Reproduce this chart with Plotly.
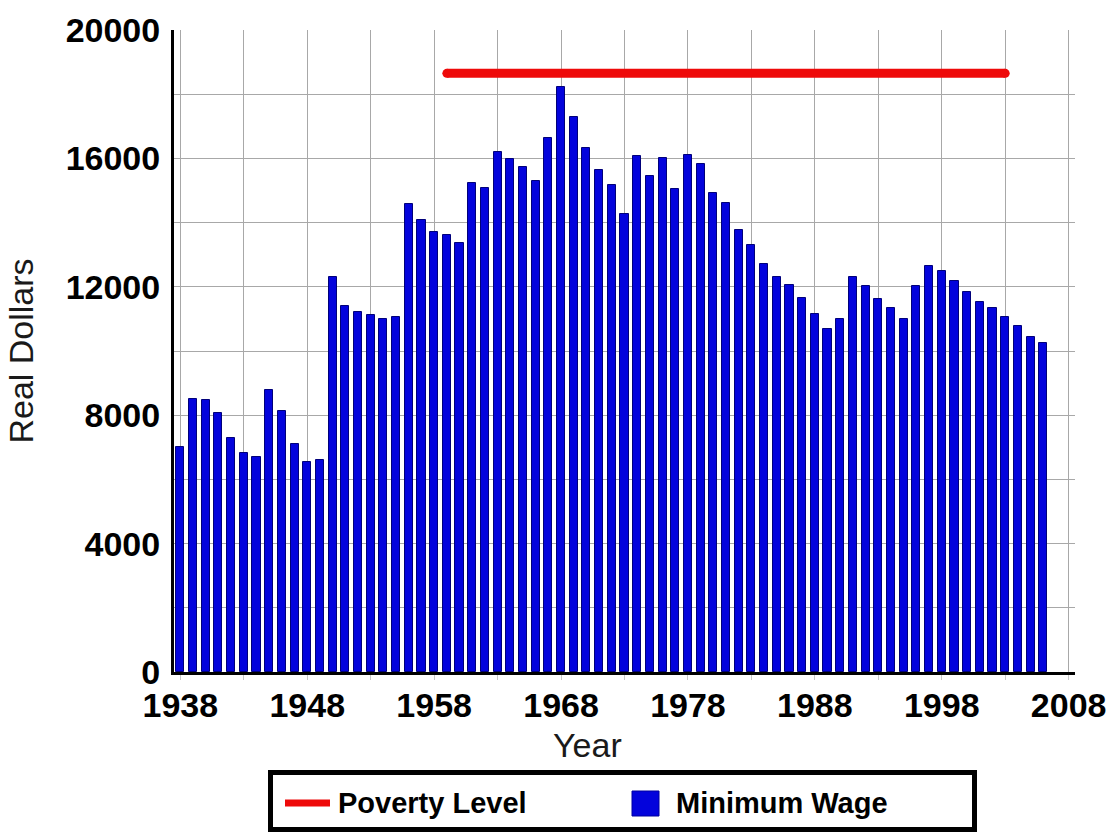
import plotly.graph_objects as go

years = list(range(1938, 2007))
min_wage = [
    7000, 8520, 8460, 8060, 7280, 6810, 6690, 8770, 8120, 7090,
    6530, 6620, 12320, 11410, 11200, 11130, 11010, 11070, 14590, 14090,
    13720, 13600, 13370, 15240, 15080, 16200, 15980, 15740, 15300, 16640,
    18220, 17290, 16330, 15640, 15180, 14270, 16080, 15460, 16020, 15050,
    16110, 15830, 14930, 14620, 13780, 13310, 12720, 12320, 12070, 11660,
    11160, 10700, 11010, 12320, 12010, 11630, 11350, 11010, 12010, 12660,
    12500, 12190, 11850, 11540, 11350, 11070, 10790, 10450, 10260,
]
poverty_years = [1959, 2003]
poverty_level = [18650, 18650]

x_tick_vals = [1938, 1948, 1958, 1968, 1978, 1988, 1998, 2008]
y_tick_vals = [0, 4000, 8000, 12000, 16000, 20000]
legend_labels = ["Poverty Level", "Minimum Wage"]

RED = "#ee0a0a"
BLUE = "#0303dc"

W, H = 1120, 835
ML, MR, MT, MB = 174, 45, 30, 163
PW, PH = W - ML - MR, H - MT - MB


def px_x(px):
    return (px - ML) / PW


def px_y(py):
    return (H - MB - py) / PH


fig = go.Figure()
fig.add_trace(go.Scatter(
    x=poverty_years, y=poverty_level, mode="lines+markers",
    name=legend_labels[0], showlegend=False,
    line=dict(color=RED, width=9),
    marker=dict(color=RED, size=9, line=dict(width=0)),
))
fig.add_trace(go.Bar(
    x=years, y=min_wage, name=legend_labels[1], showlegend=False,
    width=0.64,
    marker=dict(color=BLUE, line=dict(color="#00007a", width=1)),
))

font_family = "Liberation Sans, Arial, sans-serif"

shapes = [
    # legend frame
    dict(type="rect", xref="paper", yref="paper",
         x0=px_x(270.5), x1=px_x(974.5), y0=px_y(829.5), y1=px_y(772.5),
         line=dict(color="black", width=5), fillcolor="white", layer="above"),
    # legend line symbol
    dict(type="line", xref="paper", yref="paper",
         x0=px_x(285), x1=px_x(330), y0=px_y(803), y1=px_y(803),
         line=dict(color=RED, width=7), layer="above"),
    # legend square symbol
    dict(type="rect", xref="paper", yref="paper",
         x0=px_x(632), x1=px_x(659), y0=px_y(816), y1=px_y(791),
         line=dict(color="#0000a0", width=1), fillcolor=BLUE, layer="above"),
]
annotations = [
    dict(text=legend_labels[0], xref="paper", yref="paper",
         x=px_x(336), y=px_y(803), xanchor="left", yanchor="middle",
         showarrow=False,
         font=dict(size=29, family=font_family, color="black", weight="bold")),
    dict(text=legend_labels[1], xref="paper", yref="paper",
         x=px_x(674), y=px_y(803), xanchor="left", yanchor="middle",
         showarrow=False,
         font=dict(size=29, family=font_family, color="black", weight="bold")),
    dict(text="Year", xref="paper", yref="paper",
         x=px_x(587), y=px_y(745), xanchor="center", yanchor="middle",
         showarrow=False,
         font=dict(size=34, family=font_family, color="#1a1a1a")),
]

fig.update_layout(
    width=W, height=H,
    margin=dict(l=ML, r=MR, t=MT, b=MB, autoexpand=False),
    paper_bgcolor="white", plot_bgcolor="white",
    showlegend=False,
    font=dict(family=font_family, color="black"),
    bargap=0,
    shapes=shapes,
    annotations=annotations,
)
fig.update_xaxes(
    range=[1937.5, 2008.5],
    tickmode="array", tickvals=x_tick_vals,
    ticktext=[str(v) for v in x_tick_vals],
    tickfont=dict(size=34, family=font_family, color="black", weight="bold"),
    showgrid=True, gridcolor="#a8a8a8", gridwidth=1,
    minor=dict(tickmode="linear", tick0=1938, dtick=5, showgrid=True,
               gridcolor="#a8a8a8", gridwidth=1,
               ticks="outside", ticklen=5, tickcolor="#c8c8c8"),
    showline=True, linecolor="black", linewidth=3,
    ticks="outside", ticklen=5, tickcolor="#c8c8c8", ticklabelstandoff=-4,
    zeroline=False, automargin=False,
)
fig.update_yaxes(
    range=[0, 20000],
    tickmode="array", tickvals=y_tick_vals,
    ticktext=[str(v) for v in y_tick_vals],
    tickfont=dict(size=34, family=font_family, color="black", weight="bold"),
    showgrid=True, gridcolor="#a8a8a8", gridwidth=1,
    minor=dict(tickmode="linear", tick0=0, dtick=2000, showgrid=True,
               gridcolor="#a8a8a8", gridwidth=1),
    showline=True, linecolor="black", linewidth=3,
    ticks="", ticklabelstandoff=4,
    title=dict(text="Real Dollars", font=dict(size=34, family=font_family, color="#1a1a1a"),
               standoff=22),
    zeroline=False, automargin=False,
)

fig.write_html(
    "out.html",
    config={"displayModeBar": False},
    post_script="document.body.style.margin='0px';document.body.style.padding='0px';",
)
